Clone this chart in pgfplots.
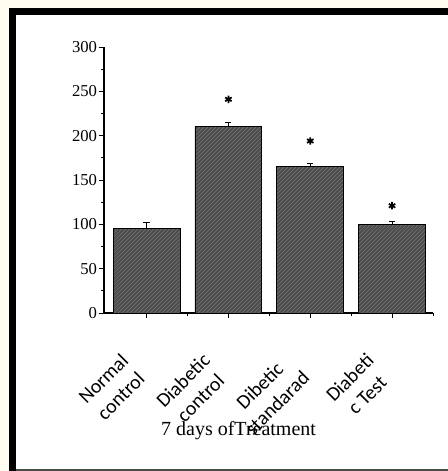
\documentclass[border=0pt]{standalone}
\usepackage{fontspec}
\setmainfont{Liberation Serif}
\newfontfamily\carlito{Carlito}
\usepackage{pgfplots}
\pgfplotsset{compat=1.18}
\usetikzlibrary{patterns}
\definecolor{cream}{RGB}{255,253,240}
\definecolor{barfill}{RGB}{76,76,76}
\definecolor{hatch}{RGB}{118,118,118}
\begin{document}
\begin{tikzpicture}
\useasboundingbox (0,0) rectangle (336pt,353.25pt);
\begin{scope}
\clip (0,0) rectangle (336pt,353.25pt);
\fill[cream] (0,0) rectangle (336pt,353.25pt);
\fill[black] (6.75pt,-5pt) rectangle (345pt,347.25pt);
\fill[white] (12pt,1.5pt) rectangle (345pt,342pt);
\fill[black!70] (12pt,-5pt) rectangle (345pt,1.5pt);
\end{scope}
\begin{axis}[
  at={(78pt,118.5pt)}, anchor=south west,
  scale only axis, width=246.75pt, height=199.5pt,
  axis x line=bottom, axis y line=left,
  axis line style={-, line width=0.8pt},
  xmin=-0.52, xmax=3.5, ymin=0, ymax=300,
  ytick={0,50,...,300}, minor ytick={25,75,...,275},
  xtick={0,1,2,3}, minor xtick={0.5,1.5,2.5,3.5},
  xticklabels={{Normal\\control},{Diabetic\\control},{Dibetic\\standarad},{Diabeti\\c Test}},
  tick align=outside,
  major tick length=4pt, minor tick length=2.2pt,
  every tick/.style={black, line width=0.7pt},
  /pgf/number format/assume math mode=true,
  yticklabel style={font=\fontsize{12.5}{14}\selectfont, inner sep=1pt},
  xticklabel style={rotate=45, anchor=north east, align=center,
     font=\carlito\fontsize{15}{18.5}\selectfont, inner sep=0pt,
     xshift=-32pt, yshift=-3.5pt},
  xlabel={7 days ofTreatment},
  xlabel style={at={(axis description cs:0.409,-0.462)}, anchor=base,
     font=\fontsize{15}{18}\selectfont},
  clip=false,
]
\addplot[ybar, bar width=0.817, draw=black, line width=0.5pt, fill=barfill,
  postaction={pattern=north east lines, pattern color=hatch},
  error bars/.cd, y dir=plus, y explicit,
  error bar style={black, line width=0.7pt},
  error mark options={rotate=90, mark size=2.3pt, black, line width=0.7pt}]
coordinates {
 (0,95.5) +- (0,6.3)
 (1,210) +- (0,5)
 (2,165) +- (0,3.8)
 (3,100.3) +- (0,2.7)
};
\addplot[only marks, mark=asterisk, mark size=2.8pt, line width=1.3pt, black]
coordinates {(1,241) (2,194) (3,121)};
\end{axis}
\end{tikzpicture}
\end{document}
